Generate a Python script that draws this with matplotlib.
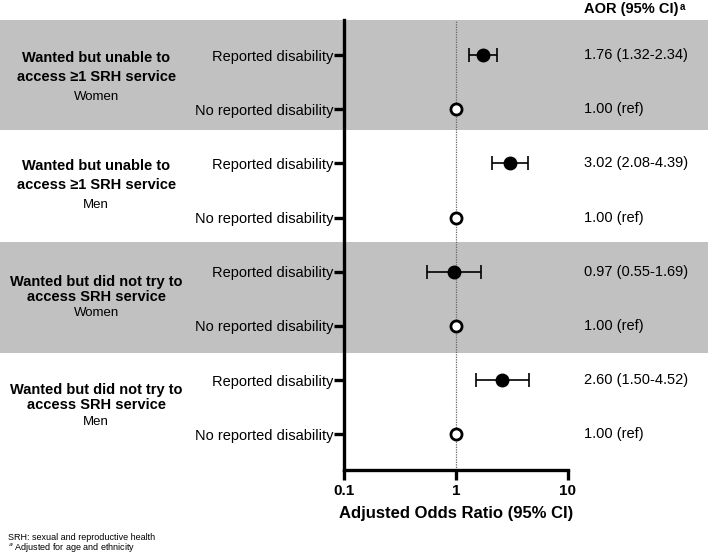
import matplotlib
matplotlib.use("Agg")
import matplotlib.pyplot as plt
from matplotlib.patches import Rectangle
from matplotlib.transforms import blended_transform_factory

plt.rcParams['font.family'] = ['Liberation Sans', 'DejaVu Sans']

# Data
row_labels = ["Reported disability", "No reported disability"] * 4
aor = [1.76, 1.00, 3.02, 1.00, 0.97, 1.00, 2.60, 1.00]
ci_low = [1.32, None, 2.08, None, 0.55, None, 1.50, None]
ci_high = [2.34, None, 4.39, None, 1.69, None, 4.52, None]
is_ref = [False, True, False, True, False, True, False, True]
aor_text = ["1.76 (1.32-2.34)", "1.00 (ref)", "3.02 (2.08-4.39)", "1.00 (ref)",
            "0.97 (0.55-1.69)", "1.00 (ref)", "2.60 (1.50-4.52)", "1.00 (ref)"]

group_titles = ["Wanted but unable to\naccess \u22651 SRH service",
                "Wanted but unable to\naccess \u22651 SRH service",
                "Wanted but did not try to\naccess SRH service",
                "Wanted but did not try to\naccess SRH service"]
group_sex = ["Women", "Men", "Women", "Men"]
group_shaded = [True, False, True, False]
band_edges = [-0.65, 1.38, 3.45, 5.5, 7.66]

fig = plt.figure(figsize=(7.08, 5.52), dpi=100)
ax = fig.add_axes([0.486, 0.1486, 0.316, 0.8152])
ax.patch.set_visible(False)

ys = list(range(len(aor)))

# shaded bands across the whole figure width
band_tr = blended_transform_factory(fig.transFigure, ax.transData)
for g, shaded in enumerate(group_shaded):
    if shaded:
        r = Rectangle((0, band_edges[g]), 1, band_edges[g + 1] - band_edges[g],
                      transform=band_tr, facecolor="#c1c1c1", edgecolor="none",
                      zorder=-1)
        fig.patches.append(r)

ax.axvline(1, color="#666666", lw=0.9, ls=(0, (1, 1)), zorder=1)

for y, v, lo, hi, ref in zip(ys, aor, ci_low, ci_high, is_ref):
    if ref:
        ax.plot(v, y, "o", ms=8, mfc="white", mec="black", mew=2, zorder=3)
    else:
        ax.errorbar(v, y, xerr=[[v - lo], [hi - v]], fmt="o", ms=9,
                    color="black", ecolor="black", elinewidth=1.2,
                    capsize=5, capthick=1.2, zorder=3)

ax.set_xscale("log")
ax.set_xlim(0.1, 10)
ax.set_ylim(7.66, -0.65)
ax.set_xticks([0.1, 1, 10])
ax.set_xticklabels(["0.1", "1", "10"], fontsize=11, fontweight="bold")
ax.xaxis.set_minor_locator(matplotlib.ticker.NullLocator())
ax.set_yticks(ys)
ax.set_yticklabels(row_labels, fontsize=10.5)
ax.tick_params(axis="both", width=2.4, length=7, color="black")
ax.tick_params(axis="x", pad=3)
ax.tick_params(axis="y", pad=0.5)
for s in ["top", "right"]:
    ax.spines[s].set_visible(False)
for s in ["left", "bottom"]:
    ax.spines[s].set_linewidth(2.4)
ax.set_xlabel("Adjusted Odds Ratio (95% CI)", fontsize=12, fontweight="bold",
              labelpad=6)

# AOR column
txt_tr = blended_transform_factory(fig.transFigure, ax.transData)
for y, t in zip(ys, aor_text):
    ax.text(0.825, y, t, transform=txt_tr, fontsize=10.5, va="center", ha="left")
hdr = ax.text(0.825, -0.85, "AOR (95% CI)", transform=txt_tr, fontsize=10.5,
              fontweight="bold", va="center", ha="left")
ax.annotate("a", xy=(1, 1), xycoords=hdr, xytext=(1, 0), textcoords="offset points",
            fontsize=7, fontweight="bold", va="top", ha="left")

# group labels
for g in range(4):
    center = 2 * g + 0.5
    ls = 1.45 if g < 2 else 1.1
    off = 0.28 if g < 2 else 0.18
    ax.text(0.136, center - off, group_titles[g], transform=txt_tr, fontsize=10.5,
            fontweight="bold", ha="center", va="center", linespacing=ls)
    ax.text(0.136, center + 0.27, group_sex[g], transform=txt_tr, fontsize=9.5,
            ha="center", va="center")

fig.text(0.012, 0.027, "SRH: sexual and reproductive health", fontsize=6.5,
         va="center", ha="left")
fig.text(0.012, 0.009, "$^{a}$ Adjusted for age and ethnicity", fontsize=6.5,
         va="center", ha="left")

fig.savefig("out.png", dpi=100)
